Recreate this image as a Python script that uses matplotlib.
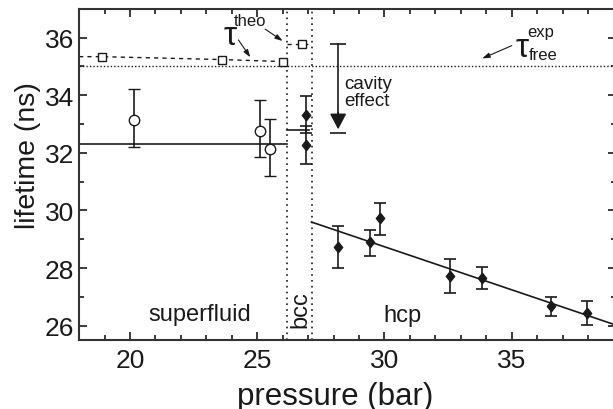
import matplotlib.pyplot as plt
import numpy as np

plt.rcParams['font.family'] = ['Liberation Sans', 'DejaVu Sans']

# theoretical lifetimes (open squares)
theo_p = [18.9, 23.6, 26.0]
theo_t = [35.34, 35.24, 35.17]
theo_bcc_p = [26.75]
theo_bcc_t = [35.79]

# superfluid (open circles)
sf_p = [20.17, 25.1, 25.5]
sf_t = [33.13, 32.77, 32.12]
sf_lo = [0.93, 0.92, 0.92]
sf_hi = [1.07, 1.06, 1.05]
sf_mean = 32.3

# bcc (diamonds)
bcc_p = [26.9, 26.9]
bcc_t = [33.33, 32.27]
bcc_err = [0.65, 0.67]
bcc_mean = 32.78

# hcp (diamonds)
hcp_p = [28.16, 29.43, 29.82, 32.57, 33.83, 36.56, 37.96]
hcp_t = [28.72, 28.9, 29.73, 27.74, 27.66, 26.67, 26.44]
hcp_lo = [0.72, 0.47, 0.57, 0.6, 0.38, 0.35, 0.41]
hcp_hi = [0.75, 0.42, 0.53, 0.58, 0.39, 0.31, 0.41]
hcp_fit_p = [27.13, 39.1]
hcp_fit_t = [29.6, 26.02]

tau_free = 35.0
p_sf_bcc = 26.17
p_bcc_hcp = 27.15

fig = plt.figure(figsize=(6.13, 4.10), dpi=100)
ax = fig.add_axes([0.129, 0.168, 0.876, 0.808])
col = '#1a1a1a'
arr = dict(arrowstyle='-|>,head_width=0.15,head_length=0.45', color=col, lw=0.8)
diamond = [(0, 1), (0.8, 0), (0, -1), (-0.8, 0), (0, 1)]

ax.axhline(tau_free, color=col, ls=(0, (1, 1.5)), lw=1)
ax.axvline(p_sf_bcc, color=col, ls=(0, (1, 2.5)), lw=1.2)
ax.axvline(p_bcc_hcp, color=col, ls=(0, (1, 2.5)), lw=1.2)

# theory
ax.plot([18.0] + theo_p + [p_sf_bcc], [theo_t[0]] + theo_t + [theo_t[-1]],
        color=col, ls=(0, (3, 3)), lw=1)
ax.plot([p_sf_bcc, p_bcc_hcp], [theo_bcc_t[0]] * 2, color=col, ls=(0, (3, 3)), lw=1)
ax.plot(theo_p + theo_bcc_p, theo_t + theo_bcc_t, 's', mfc='white', mec=col,
        ms=6, mew=1)

# superfluid
ax.plot([18.0, p_sf_bcc], [sf_mean] * 2, color=col, lw=1.2)
ax.errorbar(sf_p, sf_t, yerr=[sf_lo, sf_hi], fmt='o', mfc='white', mec=col,
            ecolor=col, ms=7.5, mew=1, capsize=4, elinewidth=1.2, capthick=1.2)

# bcc
ax.plot([p_sf_bcc, 27.05], [bcc_mean] * 2, color=col, lw=1.2)
ax.errorbar(bcc_p, bcc_t, yerr=bcc_err, fmt='none', ecolor=col,
            capsize=4, elinewidth=1.2, capthick=1.2)
ax.plot(bcc_p, bcc_t, ls='none', marker=diamond, color=col, ms=7.5)

# hcp
ax.plot(hcp_fit_p, hcp_fit_t, color=col, lw=1.2)
ax.errorbar(hcp_p, hcp_t, yerr=[hcp_lo, hcp_hi], fmt='none', ecolor=col,
            capsize=4, elinewidth=1.2, capthick=1.2)
ax.plot(hcp_p, hcp_t, ls='none', marker=diamond, color=col, ms=7.5)

# cavity effect arrow
ax.plot([28.18, 28.18], [35.78, 33.3], color=col, lw=1.2)
ax.annotate('', xy=(28.18, 32.72), xytext=(28.18, 33.5),
            arrowprops=dict(arrowstyle='-|>,head_width=0.5,head_length=0.95',
                            color=col, lw=1.2))
ax.plot([28.18], [35.78], '_', color=col, ms=12, mew=1.2)
ax.plot([28.18], [32.7], '_', color=col, ms=12, mew=1.2)
ax.text(28.42, 34.72, 'cavity\neffect', fontsize=13.5, va='top', ha='left',
        color=col, linespacing=1.0)

# tau labels
ax.text(23.93, 36.09, 'τ', fontsize=24, color=col, ha='center', va='center')
ax.text(24.71, 36.59, 'theo', fontsize=12, color=col, ha='center', va='center')
ax.annotate('', xy=(24.79, 35.24), xytext=(24.2, 36.0), arrowprops=arr)
ax.annotate('', xy=(26.09, 35.83), xytext=(25.22, 36.35), arrowprops=arr)

ax.text(35.41, 35.67, 'τ', fontsize=24, color=col, ha='center', va='center')
ax.text(36.14, 36.22, 'exp', fontsize=12, color=col, ha='center', va='center')
ax.text(36.24, 35.41, 'free', fontsize=12, color=col, ha='center', va='center')
ax.annotate('', xy=(33.74, 35.24), xytext=(35.1, 35.76), arrowprops=arr)

# phase labels
ax.text(22.75, 26.42, 'superfluid', fontsize=17, color=col, ha='center', va='center')
ax.text(26.68, 26.6, 'bcc', fontsize=17, color=col, ha='center', va='center',
        rotation=90)
ax.text(30.72, 26.38, 'hcp', fontsize=17, color=col, ha='center', va='center')

ax.set_xlim(18.0, 39.1)
ax.set_ylim(25.5, 37.0)
ax.set_xticks([20, 25, 30, 35])
ax.set_xticks(np.arange(18, 40, 1), minor=True)
ax.set_yticks([26, 28, 30, 32, 34, 36])
ax.set_yticks(np.arange(26, 38, 1), minor=True)
ax.tick_params(which='both', direction='in', top=True, right=True, colors=col,
               labelsize=19, width=1.2)
ax.tick_params(which='major', length=6)
ax.tick_params(axis='x', pad=6)
ax.tick_params(which='minor', length=3.5)
for s in ax.spines.values():
    s.set_linewidth(1.5)
    s.set_color('#333333')

ax.set_xlabel('pressure (bar)', fontsize=22.5, color=col)
ax.set_ylabel('lifetime (ns)', fontsize=20.5, color=col)
ax.xaxis.set_label_coords(0.477, -0.122)
ax.yaxis.set_label_coords(-0.07, 0.559)

fig.savefig('out.png', dpi=100)
